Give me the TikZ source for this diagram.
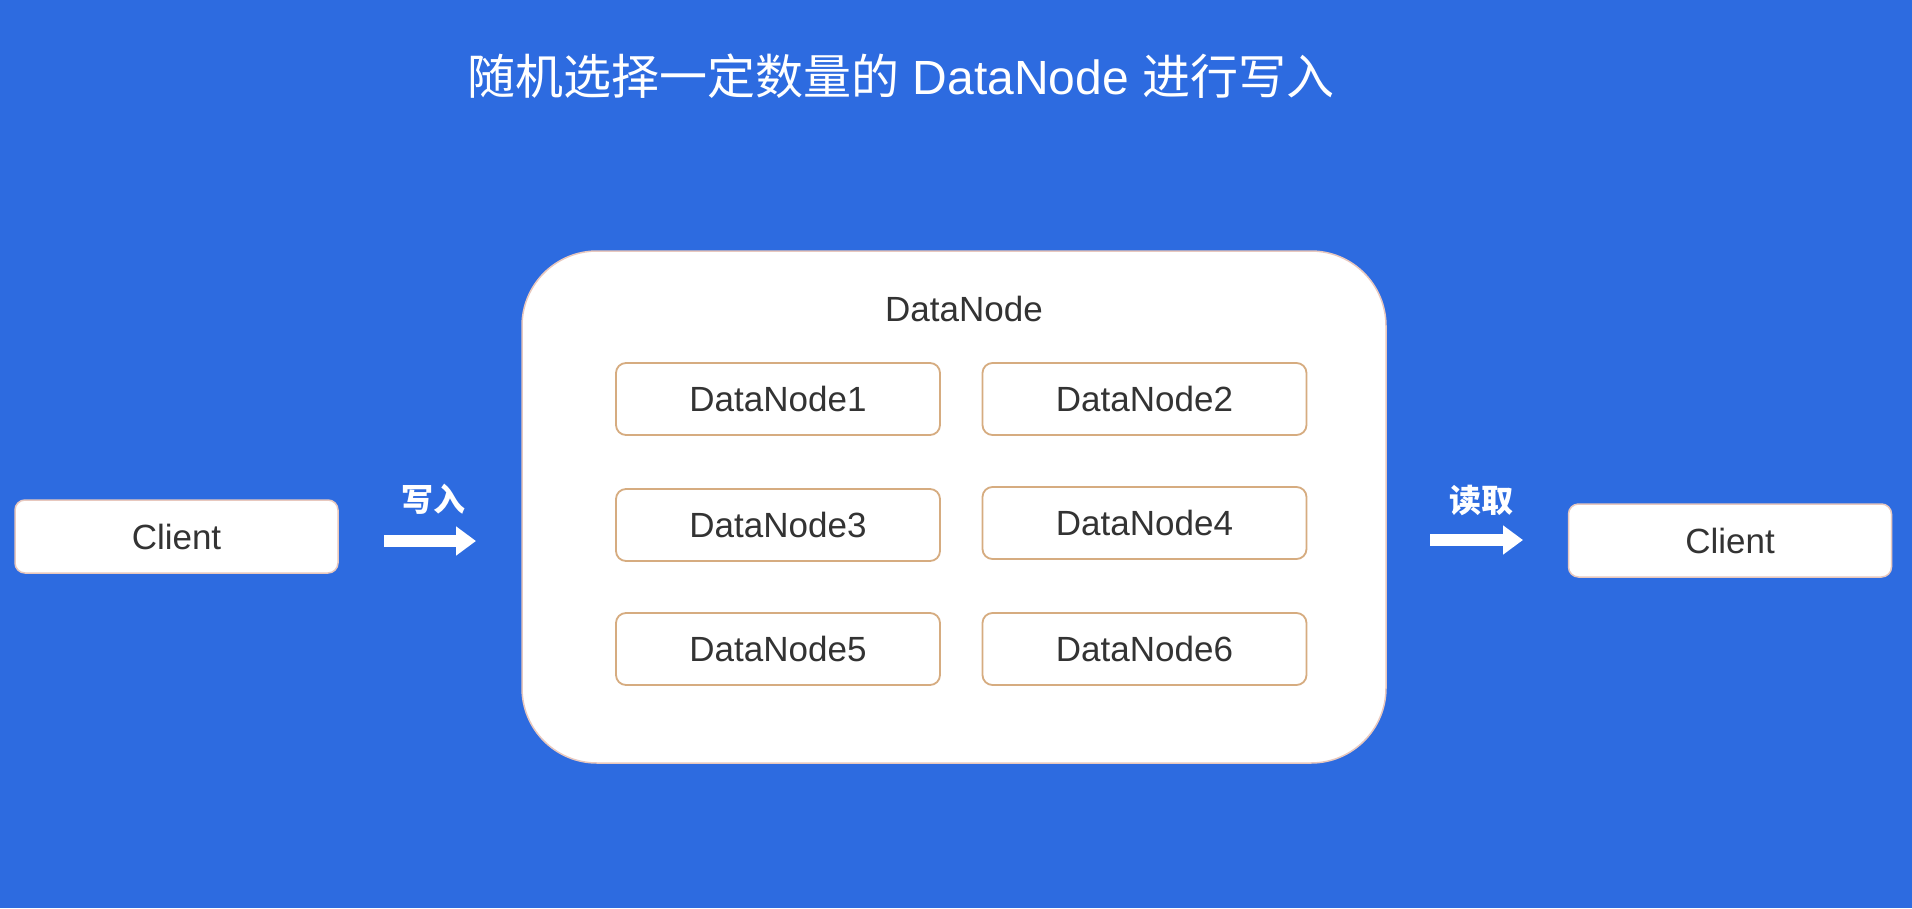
\documentclass[tikz,border=0pt]{standalone}
\usepackage{fontspec}
\setmainfont{Liberation Sans}
\newfontfamily\cjk{Noto Sans CJK SC}
\usetikzlibrary{arrows.meta}
\definecolor{bgblue}{RGB}{45,107,224}
\definecolor{tanline}{RGB}{214,172,128}
\definecolor{outline}{RGB}{232,200,190}
\definecolor{txt}{RGB}{51,51,51}
\tikzset{
  dnbox/.style={draw=tanline, line width=1.8pt, fill=white, rounded corners=10pt,
    minimum width=324pt, minimum height=72pt, inner sep=0pt, text=txt,
    font=\fontsize{35}{40}\selectfont},
  clientbox/.style={draw=outline, line width=1.5pt, fill=white, rounded corners=10pt,
    minimum width=323pt, minimum height=73pt, inner sep=0pt, text=txt,
    font=\fontsize{35}{40}\selectfont},
  bigbox/.style={draw=outline, line width=1.5pt, fill=white, rounded corners=75pt,
    minimum width=864pt, minimum height=512pt, inner sep=0pt},
  flowarrow/.style={white, line width=12pt, -{Triangle[length=20pt,width=28pt]}},
  arrowlabel/.style={text=white, font=\cjk\bfseries\fontsize{32}{36}\selectfont, inner sep=0pt},
}
\begin{document}
\begin{tikzpicture}[x=1pt,y=-1pt]
\useasboundingbox (0,0) rectangle (1912,908);
\fill[bgblue] (0,0) rectangle (1912,908);
\node[text=white, font=\fontsize{48}{56}\selectfont, inner sep=0pt] (title) at (901,76)
  {{\cjk 随机选择一定数量的} DataNode {\cjk 进行写入}};
\node[bigbox] (outer) at (954,507) {};
\node[text=txt, font=\fontsize{35}{40}\selectfont, inner sep=0pt, anchor=base] (otitle) at (964,321) {DataNode};
\node[dnbox] (dn1) at (778,399) {DataNode1};
\node[dnbox] (dn2) at (1144.5,399) {DataNode2};
\node[dnbox] (dn3) at (778,525) {DataNode3};
\node[dnbox] (dn4) at (1144.5,523) {DataNode4};
\node[dnbox] (dn5) at (778,649) {DataNode5};
\node[dnbox] (dn6) at (1144.5,649) {DataNode6};
\node[clientbox] (c1) at (176.5,536.5) {Client};
\node[clientbox] (c2) at (1730,540.5) {Client};
\coordinate (w1) at (384,541);
\coordinate (w2) at (476,541);
\coordinate (r1) at (1430,540);
\coordinate (r2) at (1523,540);
\draw[flowarrow] (w1) -- (w2);
\draw[flowarrow] (r1) -- (r2);
\node[arrowlabel] (wl) at (433,499) {写入};
\node[arrowlabel] (rl) at (1481,500) {读取};
\end{tikzpicture}
\end{document}
